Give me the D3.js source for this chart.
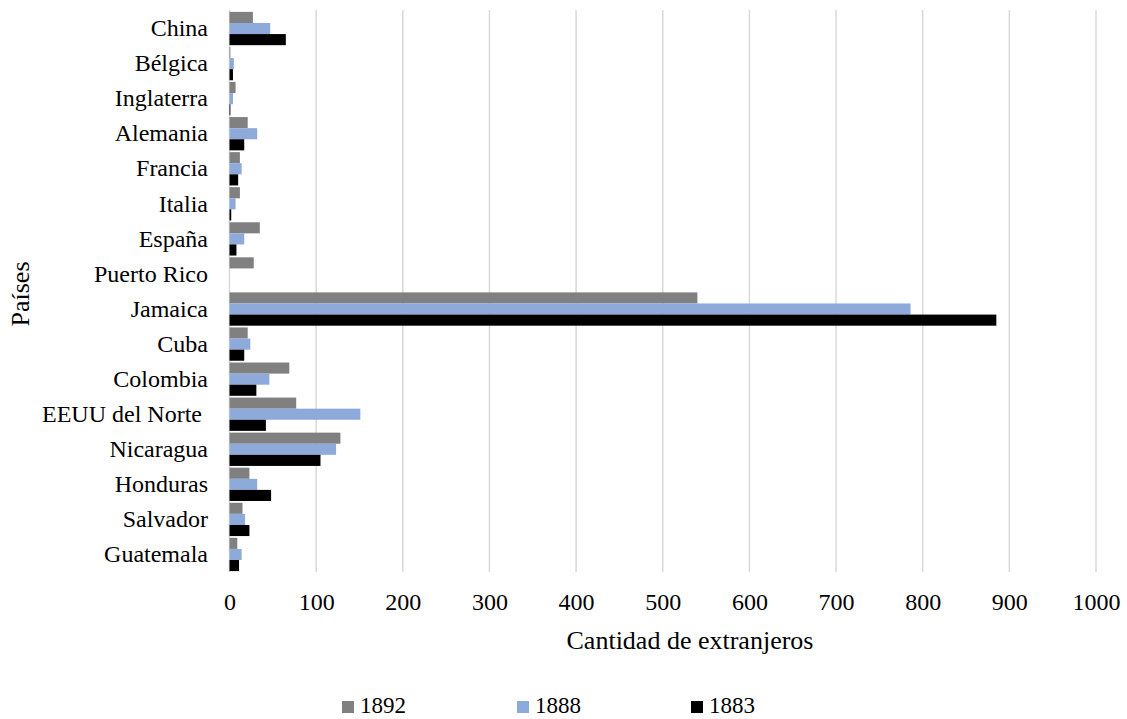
<!DOCTYPE html>
<html><head><meta charset="utf-8">
<script src="https://cdn.jsdelivr.net/npm/d3@7"></script>
<style>body{margin:0;background:#fff} svg text{font-family:"Liberation Serif","Times New Roman",serif !important;fill:#000}</style>
</head><body>
<svg id="c" width="1127" height="719"></svg>
<script>
const categories = ["China","Bélgica","Inglaterra","Alemania","Francia","Italia","España","Puerto Rico","Jamaica","Cuba","Colombia","EEUU del Norte ","Nicaragua","Honduras","Salvador","Guatemala"];
const s1892 = [27,1,7,21,12,12,35,28,540,21,69,77,128,23,15,9];
const s1888 = [47,5,4,32,14,7,17,0,786,24,46,151,123,32,18,14];
const s1883 = [65,4,1,17,10,2,8,0,885,17,31,42,105,48,23,11];
const seriesNames = ["1892","1888","1883"];
const seriesColors = ["#808080","#8eaadb","#000000"];
const xTicks = [0,100,200,300,400,500,600,700,800,900,1000];
const series = [s1892,s1888,s1883];

(function(){
const svg = d3.select("#c");
const pL = 229.5, pR = 1096, pT = 11, pB = 572;
const x = d3.scaleLinear().domain([0,1000]).range([pL,pR]);
const y = d3.scaleBand().domain(categories).range([pT,pB]).padding(0);
const inner = d3.scaleBand().domain(seriesNames).range([0,y.bandwidth()]).paddingOuter(0.08).paddingInner(0);

// gridlines
svg.append("g").selectAll("line").data(xTicks).join("line")
  .attr("x1",d=>x(d)).attr("x2",d=>x(d)).attr("y1",10).attr("y2",pB)
  .attr("stroke","#d9d9d9").attr("stroke-width",1.5);

// bars
const g = svg.append("g");
series.forEach((vals,si)=>{
  g.append("g").selectAll("rect").data(categories).join("rect")
    .attr("x",x(0))
    .attr("y",(c)=>y(c)+inner(seriesNames[si]))
    .attr("width",(c,i)=>Math.max(0,x(vals[i])-x(0)))
    .attr("height",inner.bandwidth())
    .attr("fill",seriesColors[si]);
});

// x axis labels
const xa = d3.axisBottom(x).tickValues(xTicks).tickFormat(d3.format("d")).tickSize(0).tickPadding(0);
const xg = svg.append("g").attr("transform",`translate(0,${pB})`).call(xa);
xg.select(".domain").remove();
xg.selectAll("text").attr("font-size",24).attr("dy",null).attr("y",38);

// y axis labels
const ya = d3.axisLeft(y).tickSize(0).tickPadding(0);
const yg = svg.append("g").attr("transform",`translate(208,0)`).call(ya);
yg.select(".domain").remove();
yg.selectAll("text").attr("font-size",24).attr("x",0).attr("dy","0.32em").style("white-space","pre");

// titles
svg.append("text").attr("x",690).attr("y",649).attr("text-anchor","middle")
  .attr("font-size",26).text("Cantidad de extranjeros");
svg.append("text").attr("transform","translate(29,294) rotate(-90)").attr("text-anchor","middle")
  .attr("font-size",26).text("Países");

// legend
const legX = [342,517,691];
const lg = svg.append("g");
seriesNames.forEach((n,i)=>{
  lg.append("rect").attr("x",legX[i]).attr("y",701).attr("width",12).attr("height",12).attr("fill",seriesColors[i]);
  lg.append("text").attr("x",legX[i]+18).attr("y",713).attr("font-size",23).text(n);
});
})();
</script>
</body></html>
